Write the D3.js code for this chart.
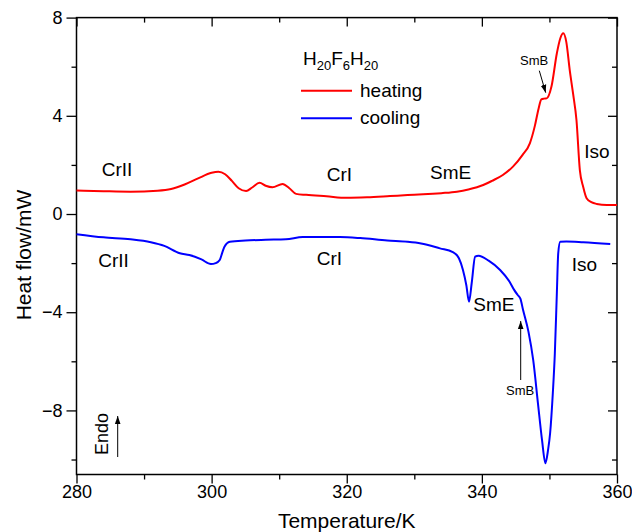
<!DOCTYPE html>
<html>
<head>
<meta charset="utf-8">
<script src="https://cdn.jsdelivr.net/npm/d3@7"></script>
<style>
  body { margin: 0; background: #fff; }
  svg text { font-family: "Liberation Sans", Arial, sans-serif; fill: #000; }
</style>
</head>
<body>
<svg id="chart" width="632" height="532"></svg>
<script>
// heating run (red)
const heatT = [280, 284, 288, 292, 294, 296, 298, 300, 301, 302, 303, 304, 305.1, 306, 307.1, 308, 309, 310.5, 311.5, 312.5, 314, 317, 320, 323, 326.4, 329, 331.3, 334, 336.3, 338, 340.2, 341.5, 343.1, 344.6, 346, 347.1, 347.85, 348.4, 348.8, 349.2, 349.6, 350.3, 351.1, 351.6, 352.05, 352.5, 353.0, 353.5, 354.0, 354.5, 355, 355.5, 356.2, 357, 358.5, 360];
const heatQ = [0.96, 0.93, 0.91, 0.95, 1.02, 1.2, 1.45, 1.68, 1.72, 1.62, 1.35, 1.05, 0.94, 1.08, 1.27, 1.15, 1.09, 1.22, 1.05, 0.82, 0.78, 0.72, 0.66, 0.68, 0.73, 0.77, 0.80, 0.85, 0.91, 1.0, 1.18, 1.35, 1.59, 1.93, 2.4, 2.88, 3.6, 4.3, 4.67, 4.7, 4.71, 5.19, 6.55, 7.15, 7.36, 7.0, 5.87, 4.9, 3.83, 1.79, 1.1, 0.64, 0.48, 0.41, 0.37, 0.37];

// cooling run (blue)
const coolT = [280, 284, 288, 291, 293, 295.3, 296.7, 298.5, 299.9, 300.6, 301.2, 301.6, 301.9, 302.7, 305, 308, 311, 313.5, 316, 319, 322, 326, 329, 331, 333.8, 335.7, 336.6, 337.2, 337.7, 338.1, 338.5, 339.0, 339.5, 341, 342.7, 344.1, 344.8, 345.3, 345.7, 346.1, 346.9, 347.6, 348.3, 348.9, 349.4, 349.8, 350.1, 350.5, 350.8, 351.1, 351.3, 351.6, 352.5, 355, 359];
const coolQ = [-0.82, -0.95, -1.03, -1.15, -1.3, -1.6, -1.67, -1.85, -2.04, -2.0, -1.87, -1.55, -1.33, -1.13, -1.08, -1.05, -1.03, -0.94, -0.94, -0.94, -0.98, -1.08, -1.13, -1.2, -1.40, -1.55, -1.8, -2.28, -2.9, -3.57, -2.8, -1.74, -1.70, -1.9, -2.28, -2.76, -3.1, -3.3, -3.45, -3.91, -4.8, -5.95, -7.71, -9.2, -10.15, -9.6, -8.93, -7.3, -5.67, -3.2, -1.6, -1.13, -1.12, -1.15, -1.22];

const xTicks = [280, 300, 320, 340, 360];
const xMinor = [290, 310, 330, 350];
const yTicks = [-8, -4, 0, 4, 8];
const yMinor = [-10, -6, -2, 2, 6];
const yTickLabels = ["\u22128", "\u22124", "0", "4", "8"];

const svg = d3.select("#chart");
const mLeft = 76.5, mRight = 617, mTop = 17.6, mBottom = 474.5;

const x = d3.scaleLinear().domain([280, 360]).range([mLeft, mRight]);
const y = d3.scaleLinear().domain([-10.61, 8]).range([mBottom, mTop]);

const axisG = svg.append("g");

// left axis: ticks outward
axisG.append("g").attr("transform", `translate(${mLeft},0)`)
    .call(d3.axisLeft(y).tickValues(yTicks).tickSize(10).tickPadding(4)
        .tickFormat((d, i) => yTickLabels[i]));
axisG.append("g").attr("transform", `translate(${mLeft},0)`)
    .call(d3.axisLeft(y).tickValues(yMinor).tickSize(5).tickFormat(""));
// right axis: ticks inward
axisG.append("g").attr("transform", `translate(${mRight},0)`)
    .call(d3.axisLeft(y).tickValues(yTicks).tickSize(9).tickFormat(""));
axisG.append("g").attr("transform", `translate(${mRight},0)`)
    .call(d3.axisLeft(y).tickValues(yMinor).tickSize(5).tickFormat(""));
// bottom axis: ticks outward
axisG.append("g").attr("transform", `translate(0,${mBottom})`)
    .call(d3.axisBottom(x).tickValues(xTicks).tickSize(9).tickPadding(2).tickFormat(d3.format("d")));
axisG.append("g").attr("transform", `translate(0,${mBottom})`)
    .call(d3.axisBottom(x).tickValues(xMinor).tickSize(5).tickFormat(""));
// top axis: ticks inward
axisG.append("g").attr("transform", `translate(0,${mTop})`)
    .call(d3.axisBottom(x).tickValues(xTicks).tickSize(9).tickFormat(""));
axisG.append("g").attr("transform", `translate(0,${mTop})`)
    .call(d3.axisBottom(x).tickValues(xMinor).tickSize(5).tickFormat(""));

axisG.selectAll(".domain").remove();
axisG.selectAll("line").attr("stroke", "#000").attr("stroke-width", 1.3);
axisG.selectAll("text").style("font-size", "18px").attr("fill", "#000");

svg.append("rect")
    .attr("x", mLeft).attr("y", mTop)
    .attr("width", mRight - mLeft).attr("height", mBottom - mTop)
    .attr("fill", "none").attr("stroke", "#000").attr("stroke-width", 1.5);

// axis titles
svg.append("text")
    .attr("x", (mLeft + mRight) / 2).attr("y", 528)
    .attr("text-anchor", "middle").style("font-size", "21px")
    .text("Temperature/K");
svg.append("text")
    .attr("transform", "translate(31,255) rotate(-90)")
    .attr("text-anchor", "middle").style("font-size", "21px")
    .text("Heat flow/mW");

// curves
const line = d3.line()
    .x(d => x(d[0])).y(d => y(d[1]))
    .curve(d3.curveMonotoneX);

svg.append("path")
    .datum(heatT.map((t, i) => [t, heatQ[i]]))
    .attr("d", line).attr("fill", "none")
    .attr("stroke", "#ff0000").attr("stroke-width", 2);
svg.append("path")
    .datum(coolT.map((t, i) => [t, coolQ[i]]))
    .attr("d", line).attr("fill", "none")
    .attr("stroke", "#0000ff").attr("stroke-width", 2);

// legend
const title = svg.append("text").attr("x", 303).attr("y", 65).style("font-size", "19px");
title.append("tspan").text("H");
title.append("tspan").attr("dy", 5).style("font-size", "13px").text("20");
title.append("tspan").attr("dy", -5).text("F");
title.append("tspan").attr("dy", 5).style("font-size", "13px").text("6");
title.append("tspan").attr("dy", -5).text("H");
title.append("tspan").attr("dy", 5).style("font-size", "13px").text("20");

svg.append("line").attr("x1", 301).attr("x2", 352).attr("y1", 90.7).attr("y2", 90.7)
    .attr("stroke", "#ff0000").attr("stroke-width", 2);
svg.append("text").attr("x", 360).attr("y", 97).style("font-size", "19px").text("heating");
svg.append("line").attr("x1", 301).attr("x2", 352).attr("y1", 118.3).attr("y2", 118.3)
    .attr("stroke", "#0000ff").attr("stroke-width", 2);
svg.append("text").attr("x", 360).attr("y", 124).style("font-size", "19px").text("cooling");

// phase labels
const labels = [
    ["CrII", 101.7, 176], ["CrI", 326.7, 181], ["SmE", 430, 178.5], ["Iso", 584.3, 157.5],
    ["CrII", 98.3, 267], ["CrI", 316.7, 265], ["SmE", 473.3, 311], ["Iso", 571.7, 271]
];
svg.selectAll(".phase").data(labels).enter().append("text")
    .attr("class", "phase")
    .attr("x", d => d[1]).attr("y", d => d[2])
    .style("font-size", "19px")
    .text(d => d[0]);

// arrow marker
svg.append("defs").append("marker")
    .attr("id", "arr").attr("viewBox", "0 0 10 10")
    .attr("refX", 10).attr("refY", 5)
    .attr("markerWidth", 8).attr("markerHeight", 8)
    .attr("markerUnits", "userSpaceOnUse")
    .attr("orient", "auto")
    .append("path").attr("d", "M0,1.5 L10,5 L0,8.5 Z").attr("fill", "#000");

svg.append("text").attr("x", 520).attr("y", 65).style("font-size", "13px").text("SmB");
svg.append("line").attr("x1", 539.3).attr("y1", 70.7).attr("x2", 545.7).attr("y2", 92.7)
    .attr("stroke", "#000").attr("stroke-width", 1).attr("marker-end", "url(#arr)");

svg.append("text").attr("x", 506).attr("y", 395).style("font-size", "13px").text("SmB");
svg.append("line").attr("x1", 520.7).attr("y1", 380).attr("x2", 520.7).attr("y2", 321)
    .attr("stroke", "#000").attr("stroke-width", 1).attr("marker-end", "url(#arr)");

// Endo marker
svg.append("text")
    .attr("transform", "translate(108,434) rotate(-90)")
    .attr("text-anchor", "middle").style("font-size", "18px")
    .text("Endo");
svg.append("line").attr("x1", 117.7).attr("y1", 457).attr("x2", 117.7).attr("y2", 416)
    .attr("stroke", "#000").attr("stroke-width", 1).attr("marker-end", "url(#arr)");
</script>
</body>
</html>
